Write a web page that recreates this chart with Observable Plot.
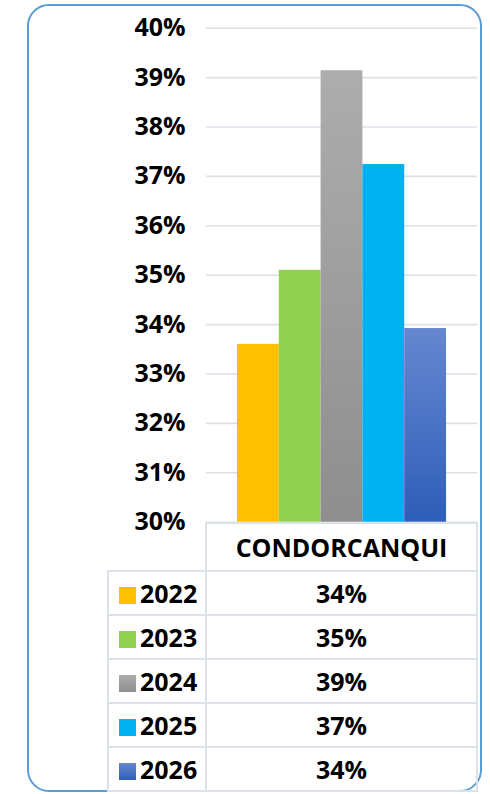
<!DOCTYPE html>
<html>
<head>
<meta charset="utf-8">
<script src="https://cdn.jsdelivr.net/npm/d3@7"></script>
<script src="https://cdn.jsdelivr.net/npm/@observablehq/plot@0.6"></script>
<style>
  html, body { margin: 0; padding: 0; background: #fff; }
  #page { position: relative; width: 490px; height: 794px; overflow: hidden; font-family: "Open Sans", sans-serif; }
  #frame { position: absolute; left: 27px; top: 4px; width: 451px; height: 784px; border: 2px solid #5B9BD5; border-radius: 22px; }
  #chart { position: absolute; left: 0; top: 0; }
  #tbl { position: absolute; left: 107px; top: 522px; border-collapse: collapse; font-weight: bold; font-size: 25px; color: #000; }
  #tbl td { border: 2px solid #DDE2E9; padding: 0; line-height: 1; }
  #tbl td.empty { border: none; }
  #tbl td.hdr { height: 46px; text-align: center; width: 269px; }
  #tbl td.lab { height: 42px; width: 96px; white-space: nowrap; }
  #tbl td.val { text-align: center; }
  .sw { display: inline-block; width: 17px; height: 17px; margin-left: 10px; margin-right: 4px; vertical-align: -1px; }
</style>
</head>
<body>
<div id="page">
  <div id="frame"></div>
  <div id="chart"></div>
  <table id="tbl"></table>
</div>
<script>
const category = "CONDORCANQUI";
const years = ["2022", "2023", "2024", "2025", "2026"];
const values = [0.336, 0.351, 0.3914, 0.3724, 0.3392];
const tableLabels = ["34%", "35%", "39%", "37%", "34%"];
const yTicks = [0.30, 0.31, 0.32, 0.33, 0.34, 0.35, 0.36, 0.37, 0.38, 0.39, 0.40];

const barFills = ["#FFC000", "#92D050", "url(#g2024)", "#00B0F0", "url(#g2026)"];
const swatchFills = ["#FFC000", "#92D050", "linear-gradient(#ADADAD,#8E8E8E)", "#00B0F0", "linear-gradient(#6687D0,#2E5EB9)"];

const data = years.map((year, i) => ({year, value: values[i]}));

function defs() {
  const d = d3.create("svg:defs");
  const addGrad = (id, top, bottom) => {
    const g = d.append("linearGradient").attr("id", id).attr("x1", 0).attr("y1", 0).attr("x2", 0).attr("y2", 1);
    g.append("stop").attr("offset", "0%").attr("stop-color", top);
    g.append("stop").attr("offset", "100%").attr("stop-color", bottom);
  };
  addGrad("g2024", "#ADADAD", "#8E8E8E");
  addGrad("g2026", "#6687D0", "#2E5EB9");
  return d.node();
}

const chart = Plot.plot({
  width: 490,
  height: 540,
  marginLeft: 206,
  marginRight: 13,
  marginTop: 27.7,
  marginBottom: 18.3,
  x: {domain: years, paddingInner: 0, paddingOuter: 0.74, round: false, axis: null},
  y: {domain: [0.30, 0.40], axis: null},
  color: {domain: years, range: barFills},
  style: {fontFamily: "'Open Sans', sans-serif", fontSize: "25px", fontWeight: "bold", color: "#000", background: "transparent", overflow: "visible"},
  marks: [
    defs,
    Plot.gridY(yTicks, {stroke: "#DCE1E8", strokeOpacity: 1, strokeWidth: 1.6}),
    Plot.barY(data, {x: "year", y1: 0.30, y2: "value", fill: "year"}),
    Plot.axisY(yTicks, {tickFormat: d3.format(".0%"), tickSize: 0, tickPadding: 21, fontSize: 25, fontWeight: "bold", fill: "#000", label: null})
  ]
});
document.getElementById("chart").appendChild(chart);

const tbl = d3.select("#tbl");
const hr = tbl.append("tr");
hr.append("td").attr("class", "empty");
hr.append("td").attr("class", "hdr").text(category);
years.forEach((y, i) => {
  const tr = tbl.append("tr");
  const lab = tr.append("td").attr("class", "lab");
  lab.append("span").attr("class", "sw").style("background", swatchFills[i]);
  lab.append("span").text(y);
  tr.append("td").attr("class", "val").text(tableLabels[i]);
});
</script>
</body>
</html>
